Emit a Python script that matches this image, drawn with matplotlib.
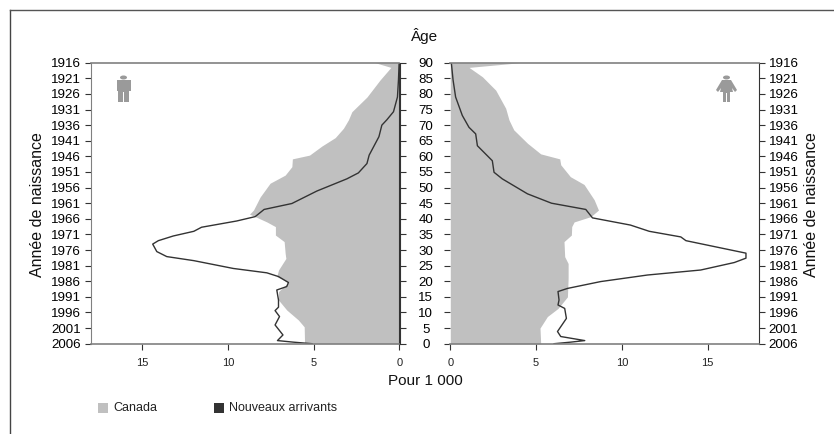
import matplotlib
matplotlib.use('Agg')
import matplotlib.pyplot as plt
from matplotlib.patches import Ellipse, Polygon, Rectangle

GREY = '#c0c0c0'
DARK = '#333333'
AXIS = '#808080'
PICTO = '#9a9a9a'

plt.rcParams['font.family'] = ['Liberation Sans', 'DejaVu Sans']

# Age / valeur
m_can_age = [90, 88.5, 84.5, 79, 74.3, 71.7, 69, 66, 63.3, 60.4, 59.2, 56.7, 54, 51.4, 47, 42.8, 41.5, 40.7, 39, 37.5,
             34.8, 32.7, 28.9, 27.3, 23.6, 21.5, 19.6, 16.7, 14, 10.8, 7.6, 5.4, 0.1, 0]
m_can_val = [1.42, 0.5, 1.13, 1.9, 2.78, 2.98, 3.27, 3.75, 4.53, 5.25, 6.25, 6.28, 6.67, 7.55, 8.13, 8.52, 8.75, 8.42, 7.74, 7.24,
             7.24, 6.73, 6.67, 6.63, 7.06, 7.16, 6.48, 7.06, 7.06, 6.58, 5.9, 5.56, 5.54, 5.1]
m_new_age = [90, 84.5, 79, 74.3, 71.7, 70, 66.3, 60.4, 57.7, 54.7, 52.8, 48.9, 44.9, 43, 40.7, 39.3, 37.3, 36, 34.5, 33,
             31.9, 29.5, 27.9, 26.6, 24.1, 22.7, 21.5, 19.6, 18.3, 17.2, 14, 11.7, 10.6, 8.7, 6, 2.8, 1, 0.5, 0]
m_new_val = [0.02, 0.06, 0.12, 0.35, 0.74, 1.03, 1.2, 1.77, 1.9, 2.4, 3.07, 4.82, 6.28, 7.9, 8.42, 9.5, 11.55, 12.0, 13.2, 14.07,
             14.4, 14.16, 13.58, 12.0, 9.7, 7.74, 7.06, 6.48, 6.58, 7.16, 7.06, 7.06, 7.26, 7.0, 7.26, 6.8, 7.12, 6.2, 5.1]
f_can_age = [90, 88.5, 85.5, 81.2, 75.4, 71.7, 68.5, 64.2, 60.8, 59.2, 57.3, 53.5, 51, 46.1, 42.8, 40.7, 39, 37.5,
             34.8, 32.7, 27.9, 25.7, 20.9, 15, 11.3, 8.7, 5, 0.1, 0]
f_can_val = [4.07, 1.09, 1.87, 2.65, 3.23, 3.42, 3.7, 4.5, 5.27, 6.38, 6.44, 7.0, 7.8, 8.39, 8.64, 8.19, 7.22, 7.08,
             7.06, 6.63, 6.67, 6.87, 6.87, 6.83, 6.28, 5.66, 5.23, 5.27, 5.27]
f_new_age = [90, 84.5, 79, 73.1, 69.3, 67.2, 63.4, 58.6, 54.9, 52.8, 48, 45, 43, 40.3, 38, 36, 34.2, 33, 31.1, 29,
             27.4, 26, 23.6, 22, 19.9, 17.7, 16.7, 14, 12.4, 11.3, 8.1, 3.9, 2.3, 1, 0.5, 0]
f_new_val = [0.06, 0.16, 0.31, 0.7, 1.09, 1.48, 1.58, 2.45, 2.55, 3.03, 4.5, 5.9, 7.9, 8.29, 10.5, 11.6, 13.44, 13.74, 15.4, 17.24,
             17.24, 16.56, 14.6, 11.5, 8.77, 6.83, 6.28, 6.34, 6.28, 6.67, 6.77, 6.25, 6.44, 7.84, 7.02, 6.05]

age_ticks = list(range(0, 95, 5))
year_labels = [str(2006 - a) for a in age_ticks]
x_ticks = [0, 5, 10, 15]

W, H = 834, 434
fig = plt.figure(figsize=(W / 100, H / 100), dpi=100)


def px_axes(x0, x1, y0, y1):
    return fig.add_axes([x0 / W, 1 - y1 / H, (x1 - x0) / W, (y1 - y0) / H])


def pyramid(ax, can_age, can_val, new_age, new_val):
    ax.fill_betweenx(can_age, 0, can_val, color=GREY, linewidth=0)
    ax.plot(new_val, new_age, color=DARK, linewidth=1.0)
    ax.set_ylim(0, 90)
    ax.set_yticks(age_ticks)
    ax.set_xticks(x_ticks)
    ax.set_xticklabels([str(t) for t in x_ticks], fontsize=8, color='#222222')
    ax.tick_params(axis='x', length=4, width=0.8, color=DARK, pad=6)
    ax.tick_params(axis='y', length=4, width=0.8, color=DARK, labelsize=9.6, pad=3)
    for s in ['top', 'bottom']:
        ax.spines[s].set_color(AXIS)
        ax.spines[s].set_linewidth(1.2)
    for s in ['left', 'right']:
        ax.spines[s].set_color(DARK)
        ax.spines[s].set_linewidth(0.8)


left = px_axes(91, 399.5, 62.7, 343.7)
pyramid(left, m_can_age, m_can_val, m_new_age, m_new_val)
left.set_xlim(18, 0)
left.set_yticklabels(year_labels)
left.spines['left'].set_color(AXIS)
age_ax = left.twinx()
age_ax.set_ylim(0, 90)
age_ax.set_yticks(age_ticks)
age_ax.set_yticklabels([str(a) for a in age_ticks], fontsize=9.6, ha='center')
age_ax.tick_params(axis='y', length=4, width=0.8, color=DARK, pad=15)
age_ax.spines[['top', 'bottom', 'left']].set_visible(False)
age_ax.spines['right'].set_color(DARK)
age_ax.spines['right'].set_linewidth(0.8)

right = px_axes(450.3, 759, 62.7, 343.7)
pyramid(right, f_can_age, f_can_val, f_new_age, f_new_val)
right.set_xlim(0, 18)
right.yaxis.tick_right()
right.set_yticklabels(year_labels)
right.tick_params(axis='y', left=True, right=True, labelleft=False, labelright=True)
right.spines['left'].set_visible(False)

fig.text(425 / W, 1 - 36 / H, 'Âge', fontsize=11, ha='center', va='center', color='#111111')
fig.text(425 / W, 1 - 381 / H, 'Pour 1 000', fontsize=11, ha='center', va='center', color='#111111')
fig.text(38 / W, 1 - 205 / H, 'Année de naissance', fontsize=11.5, rotation=90, ha='center', va='center', color='#111111')
fig.text(812 / W, 1 - 205 / H, 'Année de naissance', fontsize=11.5, rotation=90, ha='center', va='center', color='#111111')

# cadre, pictogrammes et légende en pixels
ov = fig.add_axes([0, 0, 1, 1], zorder=5)
ov.set_xlim(0, W)
ov.set_ylim(H, 0)
ov.axis('off')
ov.plot([10, 10], [434, 10], color='#444444', linewidth=1.0)
ov.plot([10, 834], [10, 10], color='#555555', linewidth=1.0)

ov.add_patch(Ellipse((123.5, 77.5), 7, 4, color=PICTO, lw=0))
ov.add_patch(Polygon([(117, 80), (131, 80), (131, 91), (129, 91), (129, 102), (124.2, 102), (124.2, 92), (123.2, 92),
                      (123.2, 102), (118.5, 102), (118.5, 91), (117, 91)], color=PICTO, lw=0))
ov.add_patch(Ellipse((726.5, 77.5), 7, 4, color=PICTO, lw=0))
ov.add_patch(Polygon([(722, 80), (731, 80), (737, 90), (735, 92), (732, 88), (733, 92), (730, 92), (730, 102), (727, 102),
                      (727, 93), (726, 93), (726, 102), (723, 102), (723, 92), (720, 92), (721, 88), (718, 92), (716, 90)],
                     color=PICTO, lw=0))

ov.add_patch(Rectangle((98, 402.7), 10, 10, color=GREY, lw=0))
ov.text(113, 408, 'Canada', fontsize=9, va='center', color='#222222')
ov.add_patch(Rectangle((214, 402.7), 10, 10, color=DARK, lw=0))
ov.text(229, 408, 'Nouveaux arrivants', fontsize=9, va='center', color='#222222')

fig.savefig('out.png', dpi=100)
